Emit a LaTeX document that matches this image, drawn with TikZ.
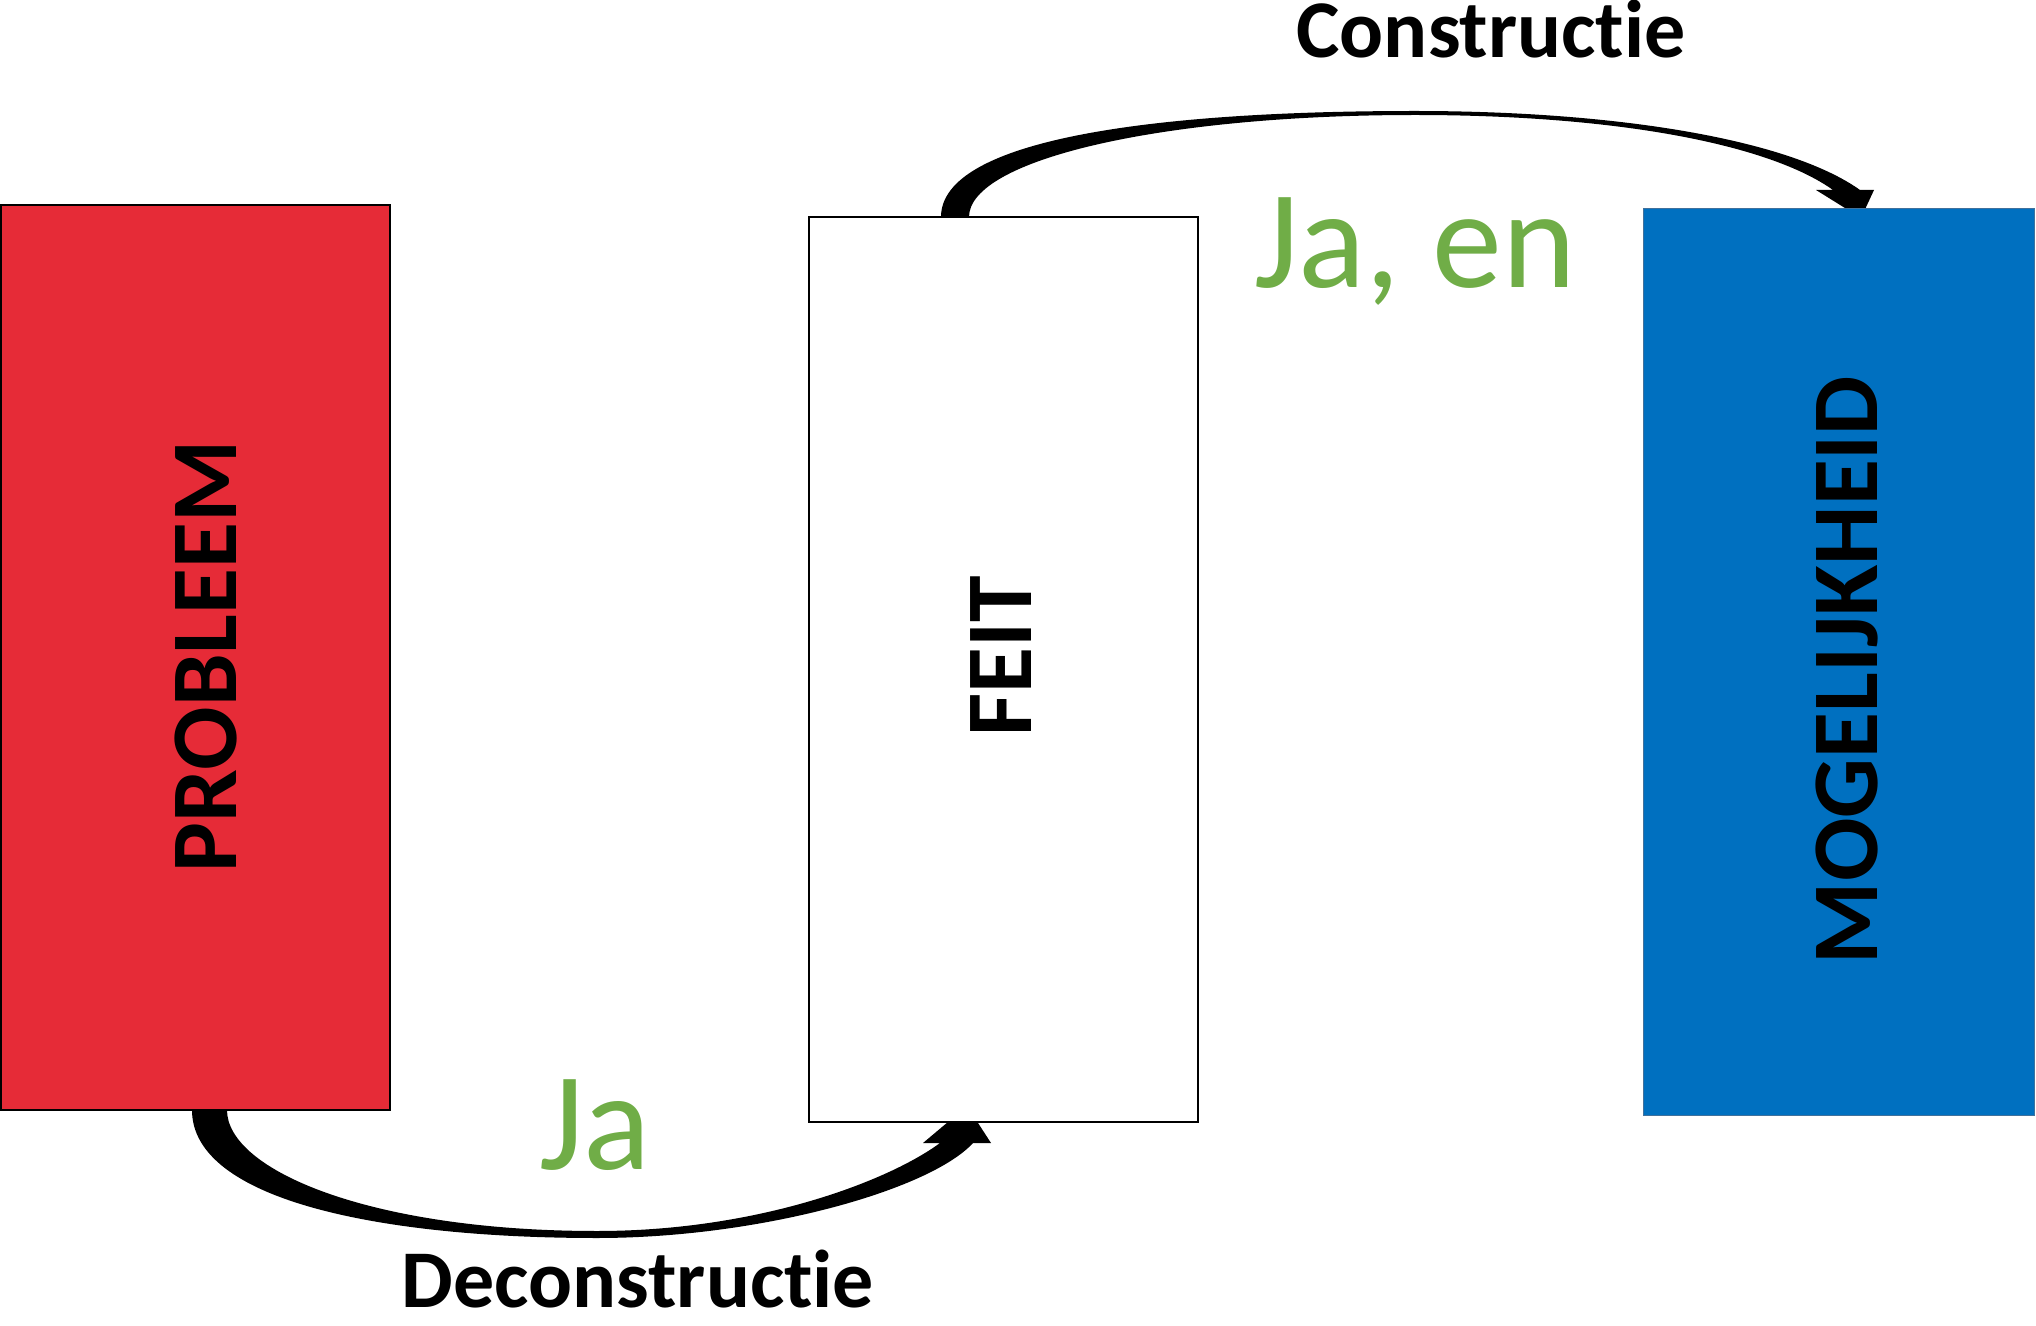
\documentclass[tikz,border=0pt]{standalone}
\usepackage{fontspec}
\setmainfont{Carlito}[Ligatures={NoCommon,NoRequired,NoContextual}]
\usetikzlibrary{calc,backgrounds}
\definecolor{probred}{HTML}{E62B37}
\definecolor{mogblue}{HTML}{0070C0}
\definecolor{mogedge}{HTML}{41719C}
\definecolor{jagreen}{HTML}{70AD47}
\begin{document}
\begin{tikzpicture}[x=0.5pt,y=-0.5pt,
  boxnode/.style={rectangle, inner sep=0pt, outer sep=0pt},
  vlabel/.style={rotate=90, font=\fontsize{47}{56}\selectfont\bfseries, inner sep=0pt},
  flowlabel/.style={font=\fontsize{41}{49}\selectfont\bfseries, anchor=base, inner sep=0pt},
  yeslabel/.style={font=\fontsize{70}{84}\selectfont, text=jagreen, anchor=base, inner sep=0pt},
  arrowfill/.style={fill=black, draw=none}]
\useasboundingbox (0,0) rectangle (2036,1326);

% boxes
\node[boxnode, draw=black, line width=1.2pt, fill=probred,
      minimum width=194.5pt, minimum height=452.5pt] (prob) at (195.5,657.5) {};
\node[boxnode, draw=black, line width=1pt, fill=white,
      minimum width=194.5pt, minimum height=452.5pt] (feit) at (1003.5,669.5) {};
\node[boxnode, draw=mogedge, line width=0.5pt, fill=mogblue,
      minimum width=195.5pt, minimum height=453pt] (mog) at (1838.5,662) {};

% box labels
\node[vlabel] (probl) at ($(prob.center)+(10,-1)$) {PROBLEEM};
\node[vlabel] (feitl) at ($(feit.center)+(-2,-13)$) {FEIT};
\node[vlabel] (mogl) at ($(mog.center)+(8,8)$) {MOGELIJKHEID};

% connector end points
\coordinate (t0) at ($(feit.north west)+(132,0)$);
\coordinate (t1) at ($(feit.north west)+(160,0)$);
\coordinate (ttip) at ($(mog.north west)+(218,9)$);
\coordinate (b0) at ($(prob.south west)+(191,0)$);
\coordinate (b1) at ($(prob.south west)+(226,0)$);
\coordinate (btip) at ($(feit.south west)+(158,-16)$);

\begin{scope}[on background layer]
% Constructie arrow: FEIT -> MOGELIJKHEID
\path[arrowfill] (t0) .. controls (941,140) and (1150,111) .. (1415,111)
  .. controls (1620,111) and (1790,140) .. (1860,190)
  -- (1874,190) -- (ttip) -- (1816,190) -- (1833,190)
  .. controls (1770,145) and (1620,115) .. (1415,115)
  .. controls (1160,115) and (969,160) .. (t1) -- cycle;
% Deconstructie arrow: PROBLEEM -> FEIT
\path[arrowfill] (b0) .. controls (192,1200) and (380,1238) .. (597,1238)
  .. controls (760,1238) and (930,1190) .. (973,1143)
  -- (991,1143) -- (btip) -- (923,1143) -- (940,1143)
  .. controls (890,1180) and (760,1231) .. (597,1231)
  .. controls (370,1231) and (227,1170) .. (b1) -- cycle;
\end{scope}

% connector labels
\node[flowlabel] (conl) at (1491,58) {Construct\kern0pt ie};
\node[yeslabel] (jaen) at (1415,288) {Ja, en};
\node[yeslabel] (ja) at (595,1169) {Ja};
\node[flowlabel] (deconl) at (638,1307) {Deconstruct\kern0pt ie};
\end{tikzpicture}
\end{document}
